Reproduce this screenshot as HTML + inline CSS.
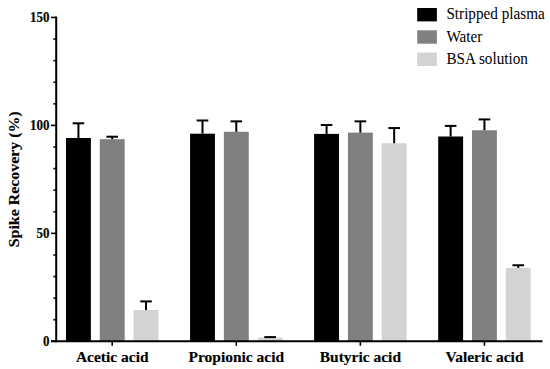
<!DOCTYPE html><html><head><meta charset="utf-8"><style>html,body{margin:0;padding:0;background:#fff;width:550px;height:369px;overflow:hidden}svg{display:block}text{font-family:"Liberation Serif",serif;stroke:#000;stroke-width:0.15px}</style></head><body>
<svg width="550" height="369" viewBox="0 0 550 369">
<rect x="65.98" y="138.02" width="24.9" height="203.28" fill="#000000"/>
<line x1="78.43" y1="138.02" x2="78.43" y2="123.30" stroke="#000" stroke-width="2"/>
<line x1="72.63" y1="123.30" x2="84.23" y2="123.30" stroke="#000" stroke-width="2"/>
<rect x="99.78" y="139.21" width="24.9" height="202.09" fill="#808080"/>
<line x1="112.23" y1="139.21" x2="112.23" y2="136.72" stroke="#000" stroke-width="2"/>
<line x1="106.43" y1="136.72" x2="118.03" y2="136.72" stroke="#000" stroke-width="2"/>
<rect x="133.58" y="310.05" width="24.9" height="31.25" fill="#d3d3d3"/>
<line x1="146.03" y1="310.05" x2="146.03" y2="301.40" stroke="#000" stroke-width="2"/>
<line x1="140.23" y1="301.40" x2="151.83" y2="301.40" stroke="#000" stroke-width="2"/>
<rect x="190.05" y="133.69" width="24.9" height="207.61" fill="#000000"/>
<line x1="202.50" y1="133.69" x2="202.50" y2="120.49" stroke="#000" stroke-width="2"/>
<line x1="196.70" y1="120.49" x2="208.30" y2="120.49" stroke="#000" stroke-width="2"/>
<rect x="223.85" y="131.74" width="24.9" height="209.56" fill="#808080"/>
<line x1="236.30" y1="131.74" x2="236.30" y2="121.35" stroke="#000" stroke-width="2"/>
<line x1="230.50" y1="121.35" x2="242.10" y2="121.35" stroke="#000" stroke-width="2"/>
<rect x="257.65" y="337.54" width="24.9" height="3.76" fill="#d3d3d3"/>
<line x1="270.10" y1="337.54" x2="270.10" y2="337.10" stroke="#000" stroke-width="2"/>
<line x1="264.30" y1="337.10" x2="275.90" y2="337.10" stroke="#000" stroke-width="2"/>
<rect x="314.12" y="133.91" width="24.9" height="207.39" fill="#000000"/>
<line x1="326.57" y1="133.91" x2="326.57" y2="125.03" stroke="#000" stroke-width="2"/>
<line x1="320.77" y1="125.03" x2="332.37" y2="125.03" stroke="#000" stroke-width="2"/>
<rect x="347.92" y="132.61" width="24.9" height="208.69" fill="#808080"/>
<line x1="360.37" y1="132.61" x2="360.37" y2="121.35" stroke="#000" stroke-width="2"/>
<line x1="354.57" y1="121.35" x2="366.17" y2="121.35" stroke="#000" stroke-width="2"/>
<rect x="381.72" y="143.21" width="24.9" height="198.09" fill="#d3d3d3"/>
<line x1="394.17" y1="143.21" x2="394.17" y2="128.06" stroke="#000" stroke-width="2"/>
<line x1="388.37" y1="128.06" x2="399.97" y2="128.06" stroke="#000" stroke-width="2"/>
<rect x="438.19" y="136.50" width="24.9" height="204.80" fill="#000000"/>
<line x1="450.64" y1="136.50" x2="450.64" y2="125.90" stroke="#000" stroke-width="2"/>
<line x1="444.84" y1="125.90" x2="456.44" y2="125.90" stroke="#000" stroke-width="2"/>
<rect x="471.99" y="130.23" width="24.9" height="211.07" fill="#808080"/>
<line x1="484.44" y1="130.23" x2="484.44" y2="119.41" stroke="#000" stroke-width="2"/>
<line x1="478.64" y1="119.41" x2="490.24" y2="119.41" stroke="#000" stroke-width="2"/>
<rect x="505.79" y="267.86" width="24.9" height="73.44" fill="#d3d3d3"/>
<line x1="518.24" y1="267.86" x2="518.24" y2="265.26" stroke="#000" stroke-width="2"/>
<line x1="512.44" y1="265.26" x2="524.04" y2="265.26" stroke="#000" stroke-width="2"/>
<line x1="56.2" y1="16.45" x2="56.2" y2="342.3" stroke="#000" stroke-width="2"/>
<line x1="51" y1="341.3" x2="542.5" y2="341.3" stroke="#000" stroke-width="2"/>
<line x1="51.00" y1="341.30" x2="56.2" y2="341.30" stroke="#000" stroke-width="1.6"/>
<line x1="53.40" y1="319.71" x2="56.2" y2="319.71" stroke="#000" stroke-width="1.6"/>
<line x1="53.40" y1="298.12" x2="56.2" y2="298.12" stroke="#000" stroke-width="1.6"/>
<line x1="53.40" y1="276.53" x2="56.2" y2="276.53" stroke="#000" stroke-width="1.6"/>
<line x1="53.40" y1="254.94" x2="56.2" y2="254.94" stroke="#000" stroke-width="1.6"/>
<line x1="51.00" y1="233.35" x2="56.2" y2="233.35" stroke="#000" stroke-width="1.6"/>
<line x1="53.40" y1="211.76" x2="56.2" y2="211.76" stroke="#000" stroke-width="1.6"/>
<line x1="53.40" y1="190.17" x2="56.2" y2="190.17" stroke="#000" stroke-width="1.6"/>
<line x1="53.40" y1="168.58" x2="56.2" y2="168.58" stroke="#000" stroke-width="1.6"/>
<line x1="53.40" y1="146.99" x2="56.2" y2="146.99" stroke="#000" stroke-width="1.6"/>
<line x1="51.00" y1="125.40" x2="56.2" y2="125.40" stroke="#000" stroke-width="1.6"/>
<line x1="53.40" y1="103.81" x2="56.2" y2="103.81" stroke="#000" stroke-width="1.6"/>
<line x1="53.40" y1="82.22" x2="56.2" y2="82.22" stroke="#000" stroke-width="1.6"/>
<line x1="53.40" y1="60.63" x2="56.2" y2="60.63" stroke="#000" stroke-width="1.6"/>
<line x1="53.40" y1="39.04" x2="56.2" y2="39.04" stroke="#000" stroke-width="1.6"/>
<line x1="51.00" y1="17.45" x2="56.2" y2="17.45" stroke="#000" stroke-width="1.6"/>
<text transform="translate(49.5,346.15) scale(1,1.12)" text-anchor="end" font-weight="bold" font-size="13">0</text>
<text transform="translate(49.5,238.20) scale(1,1.12)" text-anchor="end" font-weight="bold" font-size="13">50</text>
<text transform="translate(49.5,130.25) scale(1,1.12)" text-anchor="end" font-weight="bold" font-size="13">100</text>
<text transform="translate(49.5,22.30) scale(1,1.12)" text-anchor="end" font-weight="bold" font-size="13">150</text>
<line x1="112.23" y1="341.3" x2="112.23" y2="345.8" stroke="#000" stroke-width="1.6"/>
<text transform="translate(112.23,362.3) scale(1,0.97)" text-anchor="middle" font-weight="bold" font-size="15.5">Acetic acid</text>
<line x1="236.30" y1="341.3" x2="236.30" y2="345.8" stroke="#000" stroke-width="1.6"/>
<text transform="translate(236.30,362.3) scale(1,0.97)" text-anchor="middle" font-weight="bold" font-size="15.5">Propionic acid</text>
<line x1="360.37" y1="341.3" x2="360.37" y2="345.8" stroke="#000" stroke-width="1.6"/>
<text transform="translate(360.37,362.3) scale(1,0.97)" text-anchor="middle" font-weight="bold" font-size="15.5">Butyric acid</text>
<line x1="484.44" y1="341.3" x2="484.44" y2="345.8" stroke="#000" stroke-width="1.6"/>
<text transform="translate(484.44,362.3) scale(1,0.97)" text-anchor="middle" font-weight="bold" font-size="15.5">Valeric acid</text>
<text transform="translate(18.8,179.3) rotate(-90) scale(1,0.98)" text-anchor="middle" font-weight="bold" font-size="15.9">Spike Recovery (%)</text>
<rect x="417.2" y="8.00" width="19.7" height="13.4" fill="#000000"/>
<text transform="translate(446.4,19.20) scale(1,1.05)" font-size="15.2" style="stroke:none">Stripped plasma</text>
<rect x="417.2" y="30.30" width="19.7" height="13.4" fill="#808080"/>
<text transform="translate(446.4,41.50) scale(1,1.05)" font-size="15.2" style="stroke:none">Water</text>
<rect x="417.2" y="52.60" width="19.7" height="13.4" fill="#d3d3d3"/>
<text transform="translate(446.4,63.80) scale(1,1.05)" font-size="15.2" style="stroke:none">BSA solution</text>
</svg></body></html>
